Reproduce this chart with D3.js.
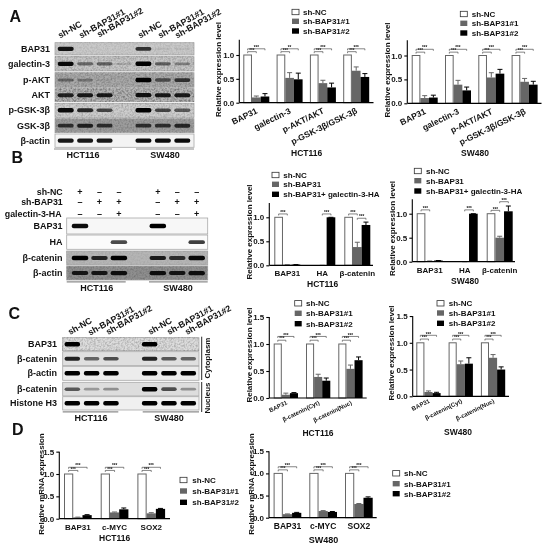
<!DOCTYPE html>
<html>
<head>
<meta charset="utf-8">
<script src="https://cdn.jsdelivr.net/npm/d3@7"></script>
<style>
  html, body { margin: 0; padding: 0; background: #fff; }
  svg { filter: blur(0.35px); }
  text { font-family: "Liberation Sans", Arial, sans-serif; font-weight: bold; fill: #111; }
</style>
</head>
<body>
<div id="chart"></div>
<script>
//series names
const legendKd = ["sh-NC", "sh-BAP31#1", "sh-BAP31#2"];
const legendHa = ["sh-NC", "sh-BAP31", "sh-BAP31+ galectin-3-HA"];

//panel A bars
const catsA = ["BAP31", "galectin-3", "p-AKT/AKT", "p-GSK-3β/GSK-3β"];
const a1Nc = [1, 1, 1, 1];
const a1Kd1 = [0.11, 0.52, 0.41, 0.67];
const a1Kd2 = [0.13, 0.49, 0.32, 0.54];
const a1Err1 = [0.03, 0.11, 0.06, 0.08];
const a1Err2 = [0.06, 0.13, 0.09, 0.07];
const a2Nc = [1, 1, 1, 1];
const a2Kd1 = [0.11, 0.39, 0.54, 0.45];
const a2Kd2 = [0.12, 0.27, 0.62, 0.39];
const a2Err1 = [0.05, 0.09, 0.10, 0.07];
const a2Err2 = [0.05, 0.07, 0.09, 0.07];

//panel B bars
const catsB = ["BAP31", "HA", "β-catenin"];
const b1Nc = [1, 0, 1];
const b1Kd = [0.012, 0, 0.38];
const b1Ha = [0.015, 1, 0.84];
const b1ErrKd = [0, 0, 0.10];
const b1ErrHa = [0, 0, 0.06];
const b2Nc = [1, 0, 1];
const b2Kd = [0.015, 0, 0.50];
const b2Ha = [0.025, 1, 1.05];
const b2ErrKd = [0, 0, 0.03];
const b2ErrHa = [0, 0, 0.11];

//panel C bars
const catsC = ["BAP31", "β-catenin(Cyt)", "β-catenin(Nuc)"];
const c1Nc = [1, 1, 1];
const c1Kd1 = [0.06, 0.39, 0.54];
const c1Kd2 = [0.09, 0.32, 0.70];
const c1Err1 = [0.03, 0.05, 0.07];
const c1Err2 = [0.01, 0.05, 0.06];
const c2Nc = [1, 1, 1];
const c2Kd1 = [0.08, 0.60, 0.72];
const c2Kd2 = [0.06, 0.61, 0.50];
const c2Err1 = [0.02, 0.06, 0.06];
const c2Err2 = [0.015, 0.11, 0.05];

//panel D bars
const catsD = ["BAP31", "c-MYC", "SOX2"];
const d1Nc = [1, 1, 1];
const d1Kd1 = [0.03, 0.14, 0.12];
const d1Kd2 = [0.08, 0.21, 0.22];
const d1Err1 = [0.005, 0.01, 0.015];
const d1Err2 = [0.01, 0.03, 0.01];
const d2Nc = [1, 1, 1];
const d2Kd1 = [0.08, 0.15, 0.31];
const d2Kd2 = [0.11, 0.13, 0.45];
const d2Err1 = [0.005, 0.01, 0.01];
const d2Err2 = [0.01, 0.01, 0.02];

//significance brackets: [category index, from series, to series, height, label]
const sigA1 = [0, 1, 2, 3].flatMap(g => [[g, 0, 1, 1.07, "***"], [g, 0, 2, 1.13, g == 1 ? "**" : "***"]]);
const sigA2 = [0, 1, 2, 3].flatMap(g => [[g, 0, 1, 1.07, "***"], [g, 0, 2, 1.13, "***"]]);
const sigB1 = [[0, 0, 1, 1.07, "***"], [1, 1, 2, 1.07, "***"], [2, 0, 1, 1.07, "***"], [2, 1, 2, 0.98, "***"]];
const sigB2 = [[0, 0, 1, 1.08, "***"], [1, 1, 2, 1.08, "***"], [2, 0, 1, 1.07, "***"], [2, 1, 2, 1.25, "***"]];
const sigC = [0, 1, 2].flatMap(g => [[g, 0, 1, 1.07, "***"], [g, 0, 2, 1.14, "***"]]);
const sigD = [0, 1, 2].flatMap(g => [[g, 0, 1, 1.08, "***"], [g, 0, 2, 1.15, "***"]]);

//lanes of the blots, "gap" is the empty lane between the two cell lines
const lanes = ["NC1", "k1a", "k1b", "gap", "NC2", "k2a", "k2b"];

//blot band strength, one number per lane
const rowsA = ["BAP31", "galectin-3", "p-AKT", "AKT", "p-GSK-3β", "GSK-3β", "β-actin"];
const bandsA = [
  [0.9, 0, 0, 0, 0.75, 0.06, 0.05],
  [0.95, 0.45, 0.5, 0.12, 1, 0.5, 0.35],
  [0.4, 0.3, 0.05, 0, 1, 0.55, 0.7],
  [0.8, 0.85, 0.85, 0, 0.9, 0.85, 0.85],
  [0.95, 0.8, 0.65, 0, 1, 0.65, 0.55],
  [0.7, 0.8, 0.7, 0, 0.7, 0.7, 0.75],
  [0.9, 0.9, 0.9, 0, 0.95, 0.95, 0.95]
];
const rowsB = ["BAP31", "HA", "β-catenin", "β-actin"];
const bandsB = [
  [0.95, 0, 0, 0, 1, 0, 0],
  [0, 0, 0.7, 0, 0, 0, 0.75],
  [1, 0.8, 1, 0, 0.85, 0.75, 0.95],
  [0.85, 0.85, 0.9, 0, 0.9, 0.85, 0.9]
];
const rowsC = ["BAP31", "β-catenin", "β-actin", "β-catenin", "Histone H3"];
const bandsC = [
  [1, 0, 0, 0, 1, 0, 0],
  [0.85, 0.55, 0.65, 0, 0.85, 0.6, 0.55],
  [1, 1, 1, 0, 1, 1, 1],
  [0.6, 0.3, 0.35, 0, 1, 0.65, 0.35],
  [1, 1, 1, 0, 1, 1, 1]
];
const treatRows = ["sh-NC", "sh-BAP31", "galectin-3-HA"];
const treatMarks = [
  ["+", "–", "–", "", "+", "–", "–"],
  ["–", "+", "+", "", "–", "+", "+"],
  ["–", "–", "+", "", "–", "–", "+"]
];

const svg = d3.select("#chart").append("svg")
  .attr("width", 550)
  .attr("height", 550)
  .style("display", "block");

// blur for the bands and film grain for the blot backgrounds
const defs = svg.append("defs");
defs.append("filter").attr("id", "bandBlur")
  .attr("x", "-20%").attr("y", "-100%").attr("width", "140%").attr("height", "300%")
  .append("feGaussianBlur").attr("stdDeviation", 0.7);
const grain = defs.append("filter").attr("id", "grain")
  .attr("x", 0).attr("y", 0).attr("width", "100%").attr("height", "100%");
grain.append("feTurbulence").attr("type", "fractalNoise").attr("baseFrequency", 0.55).attr("numOctaves", 2).attr("seed", 4);
grain.append("feColorMatrix").attr("type", "matrix")
  .attr("values", "0 0 0 0 0  0 0 0 0 0  0 0 0 0 0  1.6 0 0 0 -0.6");

function label (x, y, str, size, anchor) {
  return svg.append("text")
    .attr("x", x)
    .attr("y", y)
    .attr("font-size", size)
    .attr("text-anchor", anchor || "start")
    .text(str);
}

function drawBlot (cfg) {
  let g = svg.append("g");
  let laneX = d3.scalePoint().domain(lanes).range(cfg.laneRange);

  cfg.rowY.forEach(function (r, i) {
    g.append("rect")
      .attr("x", cfg.x0).attr("y", r[0])
      .attr("width", cfg.x1 - cfg.x0).attr("height", r[1] - r[0])
      .attr("fill", cfg.bg[i])
      .attr("stroke", "#a8a8a8")
      .attr("stroke-width", 0.8);
    if (cfg.grain[i] > 0) {
      g.append("rect")
        .attr("x", cfg.x0).attr("y", r[0])
        .attr("width", cfg.x1 - cfg.x0).attr("height", r[1] - r[0])
        .attr("filter", "url(#grain)")
        .attr("opacity", cfg.grain[i]);
    }
    g.selectAll(null)
      .data(cfg.bands[i])
      .join("rect")
      .attr("x", (d, j) => laneX(lanes[j]) - cfg.bandW / 2)
      .attr("y", d => (r[0] + r[1]) / 2 - (1 + d * 1.25))
      .attr("width", cfg.bandW)
      .attr("height", d => 2 + d * 2.5)
      .attr("rx", 2)
      .attr("fill", "#050505")
      .attr("opacity", d => d)
      .attr("filter", "url(#bandBlur)");
    label(cfg.labelX, (r[0] + r[1]) / 2 + 3, cfg.rows[i], 9, "end");
  });

  //grey line and cell line name under the blot
  cfg.under.forEach(function (u) {
    g.append("line")
      .attr("x1", u.x0).attr("x2", u.x1)
      .attr("y1", cfg.underY).attr("y2", cfg.underY)
      .attr("stroke", "#8c8c8c")
      .attr("stroke-width", 1.2);
    label((u.tx !== undefined) ? u.tx : (u.x0 + u.x1) / 2, cfg.underY + 9, u.name, 9, "middle");
  });
  return laneX;
}

function drawBars (cfg) {
  let y = d3.scaleLinear().domain([0, cfg.top]).range([cfg.y0, cfg.y0 - cfg.unit * cfg.top]);
  let last = cfg.first + (cfg.cats.length - 1) * cfg.step;
  let x0 = d3.scaleBand().domain(cfg.cats)
    .range([cfg.first, last + cfg.groupW])
    .paddingInner(1 - cfg.groupW / cfg.step)
    .paddingOuter(0);
  let x1 = d3.scaleBand().domain([0, 1, 2]).range([0, cfg.groupW]);
  let fills = ["#fff", "#666", "#000"];
  let strokes = ["#666", "#666", "#000"];

  let g = svg.append("g");

  cfg.series.forEach(function (vals, s) {
    let errs = cfg.errs[s];
    if (errs) {
      g.selectAll(null)
        .data(errs)
        .join("path")
        .attr("d", function (e, i) {
          let cx = x0(cfg.cats[i]) + x1(s) + x1.bandwidth() / 2;
          let top = y(vals[i] + e);
          return "M" + cx + "," + y(vals[i]) + "V" + top + "M" + (cx - 2.5) + "," + top + "H" + (cx + 2.5);
        })
        .attr("fill", "none")
        .attr("stroke", strokes[s])
        .attr("stroke-width", 1);
    }
    g.selectAll(null)
      .data(vals)
      .join("rect")
      .attr("x", (d, i) => x0(cfg.cats[i]) + x1(s) + (s == 0 ? 0.5 : 0))
      .attr("y", d => y(d))
      .attr("width", x1.bandwidth() - (s == 0 ? 1 : 0))
      .attr("height", d => y(0) - y(d))
      .attr("fill", fills[s])
      .attr("stroke", d => d > 0 ? strokes[s] : "none")
      .attr("stroke-width", s == 0 ? 1 : 0);
  });

  //brackets with stars
  cfg.sig.forEach(function (b) {
    let cx = x0(cfg.cats[b[0]]);
    let a = cx + x1(b[1]) + x1.bandwidth() / 2;
    let c = cx + x1(b[2]) + x1.bandwidth() / 2;
    let yy = y(b[3]);
    g.append("path")
      .attr("d", "M" + a + "," + (yy + 1.5) + "V" + yy + "H" + c + "V" + (yy + 1.5))
      .attr("fill", "none")
      .attr("stroke", "#333")
      .attr("stroke-width", 0.6);
    g.append("text")
      .attr("x", (a + c) / 2)
      .attr("y", yy + 0.2)
      .attr("text-anchor", "middle")
      .attr("font-size", 4.5)
      .text(b[4]);
  });

  //axes
  let yAxis = g.append("g")
    .attr("transform", "translate(" + cfg.axisX + ",0)")
    .call(d3.axisLeft(y).tickValues(cfg.ticks).tickFormat(d3.format(".1f")).tickSize(3).tickSizeOuter(0));
  yAxis.selectAll("text").attr("font-size", 8).attr("font-family", null).attr("dx", 1);
  yAxis.selectAll("line").attr("stroke-width", 1.1);
  yAxis.select(".domain").attr("stroke-width", 1.1).attr("d", "M0," + y(cfg.top) + "V" + y(0));

  let xAxis = g.append("g")
    .attr("transform", "translate(0," + y(0) + ")")
    .call(d3.axisBottom(x0).tickSize(0));
  xAxis.select(".domain").attr("stroke-width", 1.2).attr("d", "M" + cfg.axisX + ",0H" + cfg.axisEnd);
  let tickText = xAxis.selectAll("text").attr("font-family", null).attr("font-size", cfg.tickSize);
  if (cfg.rotate) {
    // keep the end of the label under the group while rotating around it
    tickText
      .attr("text-anchor", "end")
      .attr("x", 2)
      .attr("y", 0)
      .attr("dy", 0)
      .attr("transform", "translate(0," + cfg.tickDy + ") rotate(" + cfg.rotate + ")");
  } else {
    tickText.attr("y", cfg.tickDy).attr("dy", 0);
  }

  //titles
  label(cfg.titleX, cfg.titleY, cfg.title, cfg.titleSize || 8.5, "middle");
  svg.append("text")
    .attr("transform", "translate(" + cfg.yTitleX + "," + cfg.yTitleY + ") rotate(-90)")
    .attr("text-anchor", "middle")
    .attr("font-size", 8)
    .text(cfg.yTitle);

  //legend
  cfg.legend.forEach(function (name, i) {
    let ly = cfg.legendY[i];
    svg.append("rect")
      .attr("x", cfg.legendX).attr("y", ly - 2.7)
      .attr("width", 7).attr("height", 5.4)
      .attr("fill", fills[i])
      .attr("stroke", i == 0 ? "#333" : strokes[i])
      .attr("stroke-width", i == 0 ? 0.8 : 0);
    label(cfg.legendTextX, ly + 3, name, 8);
  });
}

//Panel letters
label(9.5, 21.5, "A", 16);
label(11.5, 163, "B", 16);
label(8.5, 319, "C", 16);
label(12, 435, "D", 16);

//Panel A blot
drawBlot({
  x0: 55, x1: 194, laneRange: [65.7, 182.3], bandW: 16, labelX: 50,
  rows: rowsA, bands: bandsA,
  rowY: [[42.7, 55], [56.7, 71], [72.7, 87.3], [88.7, 101.7], [103.3, 117.3], [118.7, 132.7], [134, 147.3]],
  bg: ["#c9c9c9", "#c6c6c6", "#a9a9a9", "#b4b4b4", "#cdcdcd", "#9c9c9c", "#f3f3f3"],
  grain: [0.15, 0.3, 0.3, 0.5, 0.25, 0.25, 0],
  underY: 149,
  under: [{x0: 54, x1: 112, name: "HCT116", tx: 83}, {x0: 136, x1: 194, name: "SW480", tx: 165}]
});
[[60, 38.5, "sh-NC"], [81, 38.5, "sh-BAP31#1"], [99, 37.5, "sh-BAP31#2"],
 [140, 38.5, "sh-NC"], [160, 38.5, "sh-BAP31#1"], [177, 38.5, "sh-BAP31#2"]].forEach(function (t) {
  label(0, 0, t[2], 8.8).attr("transform", "translate(" + t[0] + "," + t[1] + ") rotate(-29)");
});

//Panel B blot
let laneB = drawBlot({
  x0: 66.7, x1: 207.7, laneRange: [80, 196.7], bandW: 16.5, labelX: 62.5,
  rows: rowsB, bands: bandsB,
  rowY: [[218, 234], [235, 249.3], [251, 265], [266, 280]],
  bg: ["#f7f7f7", "#fbfbfb", "#b5b5b5", "#8f8f8f"],
  grain: [0, 0, 0.1, 0.25],
  underY: 281.8,
  under: [{x0: 66.7, x1: 125.7, name: "HCT116", tx: 96.7}, {x0: 149, x1: 207.7, name: "SW480", tx: 178}]
});
treatRows.forEach(function (name, i) {
  let ty = [194.7, 205.3, 217][i];
  label(i == 2 ? 61.5 : 62.7, ty, name, 8.8, "end");
  treatMarks[i].forEach(function (m, j) {
    label(laneB(lanes[j]), ty, m, 9, "middle");
  });
});

//Panel C blot
drawBlot({
  x0: 62.7, x1: 199, laneRange: [72.3, 188.3], bandW: 15.5, labelX: 57,
  rows: rowsC, bands: bandsC,
  rowY: [[337.7, 350.7], [351.7, 365.7], [366.3, 380.3], [382.3, 396], [396.7, 410]],
  bg: ["#dcdcdc", "#dfdfdf", "#ececec", "#dddddd", "#f0f0f0"],
  grain: [0.3, 0, 0, 0, 0],
  underY: 411.8,
  under: [{x0: 62.7, x1: 118.3, name: "HCT116", tx: 91}, {x0: 142.7, x1: 199, name: "SW480", tx: 169}]
});
[[70, 335, "sh-NC"], [90, 335.7, "sh-BAP31#1"], [108, 335, "sh-BAP31#2"],
 [150, 335, "sh-NC"], [169, 335, "sh-BAP31#1"], [187, 335, "sh-BAP31#2"]].forEach(function (t) {
  label(0, 0, t[2], 8.8).attr("transform", "translate(" + t[0] + "," + t[1] + ") rotate(-29)");
});
[[336.7, 380], [382, 412]].forEach(function (s) {
  svg.append("line").attr("x1", 201.7).attr("x2", 201.7).attr("y1", s[0]).attr("y2", s[1])
    .attr("stroke", "#111").attr("stroke-width", 0.9);
});
[[358, "Cytoplasm"], [398, "Nucleus"]].forEach(function (t) {
  svg.append("text")
    .attr("transform", "translate(210," + t[0] + ") rotate(-90)")
    .attr("text-anchor", "middle")
    .attr("font-size", 8)
    .text(t[1]);
});

const yLabel = "Relative expression level";
const mrnaLabel = "Relative mRNA expression";

//Panel A bars
drawBars({cats: catsA, series: [a1Nc, a1Kd1, a1Kd2], errs: [null, a1Err1, a1Err2], sig: sigA1,
  first: 243.3, step: 33.3, groupW: 26, y0: 102.7, unit: 47.7, top: 1.32, ticks: [0, 0.5, 1],
  axisX: 239.3, axisEnd: 373.5, tickSize: 8.5, rotate: -26, tickDy: 11,
  title: "HCT116", titleX: 306.7, titleY: 155.5, yTitle: yLabel, yTitleX: 221, yTitleY: 69.5,
  legend: legendKd, legendX: 292, legendTextX: 303, legendY: [12, 21.3, 31]});
drawBars({cats: catsA, series: [a2Nc, a2Kd1, a2Kd2], errs: [null, a2Err1, a2Err2], sig: sigA2,
  first: 411.7, step: 33.3, groupW: 26, y0: 103.3, unit: 47.8, top: 1.32, ticks: [0, 0.5, 1],
  axisX: 407.3, axisEnd: 541.5, tickSize: 8.5, rotate: -26, tickDy: 11,
  title: "SW480", titleX: 475, titleY: 156, yTitle: yLabel, yTitleX: 389.5, yTitleY: 70,
  legend: legendKd, legendX: 460.3, legendTextX: 471.7, legendY: [14, 23.3, 33]});

//Panel B bars
drawBars({cats: catsB, series: [b1Nc, b1Kd, b1Ha], errs: [null, b1ErrKd, b1ErrHa], sig: sigB1,
  first: 274.3, step: 35, groupW: 26, y0: 265.3, unit: 48, top: 1.3, ticks: [0, 0.5, 1],
  axisX: 269.3, axisEnd: 373, tickSize: 8, tickDy: 11,
  title: "HCT116", titleX: 322.7, titleY: 287.3, yTitle: yLabel, yTitleX: 252, yTitleY: 232,
  legend: legendHa, legendX: 272, legendTextX: 283.3, legendY: [175, 184.3, 194.3]});
drawBars({cats: catsB, series: [b2Nc, b2Kd, b2Ha], errs: [null, b2ErrKd, b2ErrHa], sig: sigB2,
  first: 416.7, step: 35, groupW: 26, y0: 261.7, unit: 48, top: 1.3, ticks: [0, 0.5, 1],
  axisX: 412.3, axisEnd: 515, tickSize: 8, tickDy: 11,
  title: "SW480", titleX: 465, titleY: 283.7, yTitle: yLabel, yTitleX: 394.5, yTitleY: 228.5,
  legend: legendHa, legendX: 414.3, legendTextX: 426, legendY: [171, 180.7, 191]});

//Panel C bars
drawBars({cats: catsC, series: [c1Nc, c1Kd1, c1Kd2], errs: [null, c1Err1, c1Err2], sig: sigC,
  first: 273.7, step: 32.3, groupW: 24.3, y0: 398, unit: 54, top: 1.5, ticks: [0, 0.5, 1, 1.5],
  axisX: 269.3, axisEnd: 366.7, tickSize: 6, rotate: -26, tickDy: 7,
  title: "HCT116", titleX: 318, titleY: 436, yTitle: yLabel, yTitleX: 251.5, yTitleY: 355,
  legend: legendKd, legendX: 294.7, legendTextX: 306, legendY: [303.3, 313.3, 323.7]});
drawBars({cats: catsC, series: [c2Nc, c2Kd1, c2Kd2], errs: [null, c2Err1, c2Err2], sig: sigC,
  first: 416.3, step: 32.3, groupW: 24.3, y0: 396.3, unit: 53.5, top: 1.5, ticks: [0, 0.5, 1, 1.5],
  axisX: 412.7, axisEnd: 509, tickSize: 6, rotate: -26, tickDy: 7,
  title: "SW480", titleX: 458, titleY: 435, yTitle: yLabel, yTitleX: 394, yTitleY: 353,
  legend: legendKd, legendX: 437, legendTextX: 448.7, legendY: [303.3, 313, 323.3]});

//Panel D bars
drawBars({cats: catsD, series: [d1Nc, d1Kd1, d1Kd2], errs: [null, d1Err1, d1Err2], sig: sigD,
  first: 64, step: 36.7, groupW: 27.7, y0: 518.7, unit: 44.7, top: 1.5, ticks: [0, 0.5, 1, 1.5],
  axisX: 59.3, axisEnd: 170, tickSize: 8, tickDy: 11,
  title: "HCT116", titleX: 114.7, titleY: 541, titleSize: 8.5, yTitle: mrnaLabel, yTitleX: 43.5, yTitleY: 484,
  legend: legendKd, legendX: 180, legendTextX: 192.3, legendY: [480, 491, 502.3]});
drawBars({cats: catsD, series: [d2Nc, d2Kd1, d2Kd2], errs: [null, d2Err1, d2Err2], sig: sigD,
  first: 273.6, step: 35.7, groupW: 27.7, y0: 517.7, unit: 44.3, top: 1.5, ticks: [0, 0.5, 1, 1.5],
  axisX: 269, axisEnd: 376.7, tickSize: 8.5, tickDy: 11,
  title: "SW480", titleX: 323.5, titleY: 543, titleSize: 9, yTitle: mrnaLabel, yTitleX: 253.5, yTitleY: 484,
  legend: legendKd, legendX: 392.7, legendTextX: 404, legendY: [473.3, 483.7, 493.7]});
</script>
</body>
</html>
